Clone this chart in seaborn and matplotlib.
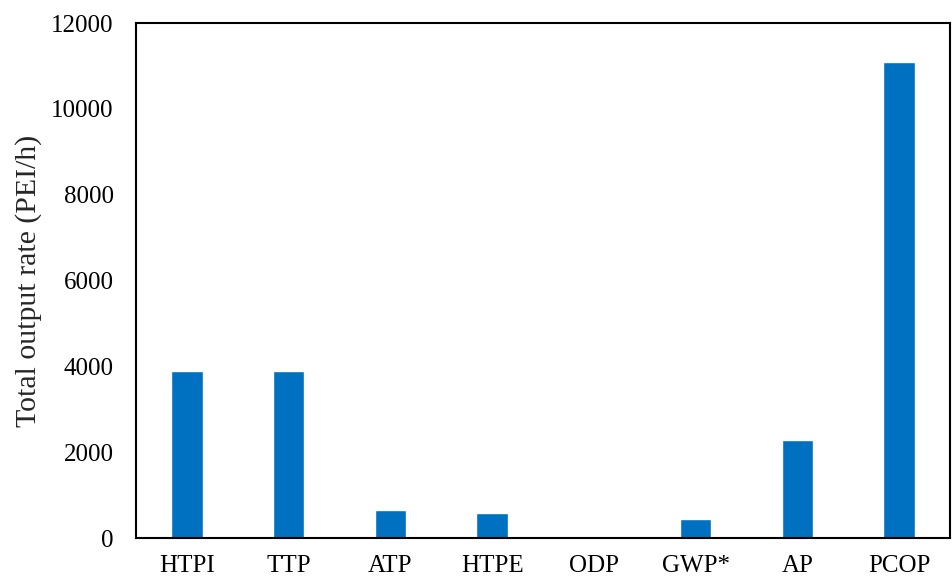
import matplotlib
matplotlib.use('Agg')
import matplotlib.pyplot as plt
import seaborn as sns
import pandas as pd

categories = ['HTPI', 'TTP', 'ATP', 'HTPE', 'ODP', 'GWP*', 'AP', 'PCOP']
output_rate = [3880, 3880, 650, 590, 0, 440, 2280, 11080]
y_ticks = [0, 2000, 4000, 6000, 8000, 10000, 12000]

df = pd.DataFrame({'category': categories, 'rate': output_rate})

sns.set_theme(style='white')
plt.rcParams['font.family'] = ['Liberation Serif', 'DejaVu Serif']

fig = plt.figure(figsize=(9.52, 5.78), dpi=100)
ax = fig.add_axes([0.1429, 0.0692, 0.8551, 0.891])

sns.barplot(data=df, x='category', y='rate', color='#0070C0',
            width=0.31, saturation=1, ax=ax)

ax.set_ylim(0, 12000)
ax.set_yticks(y_ticks)
ax.set_yticklabels([str(t) for t in y_ticks])
ax.set_xlabel('')
ax.set_ylabel('Total output rate (PEI/h)', fontsize=21.5, labelpad=7)
ax.tick_params(axis='both', length=0, labelsize=18, colors='black')
ax.tick_params(axis='y', pad=16)
ax.tick_params(axis='x', pad=12)

for side in ['left', 'right', 'top', 'bottom']:
    ax.spines[side].set_visible(True)
    ax.spines[side].set_color('black')
    ax.spines[side].set_linewidth(1.5)

fig.savefig('out.png', dpi=100)
plt.close(fig)
